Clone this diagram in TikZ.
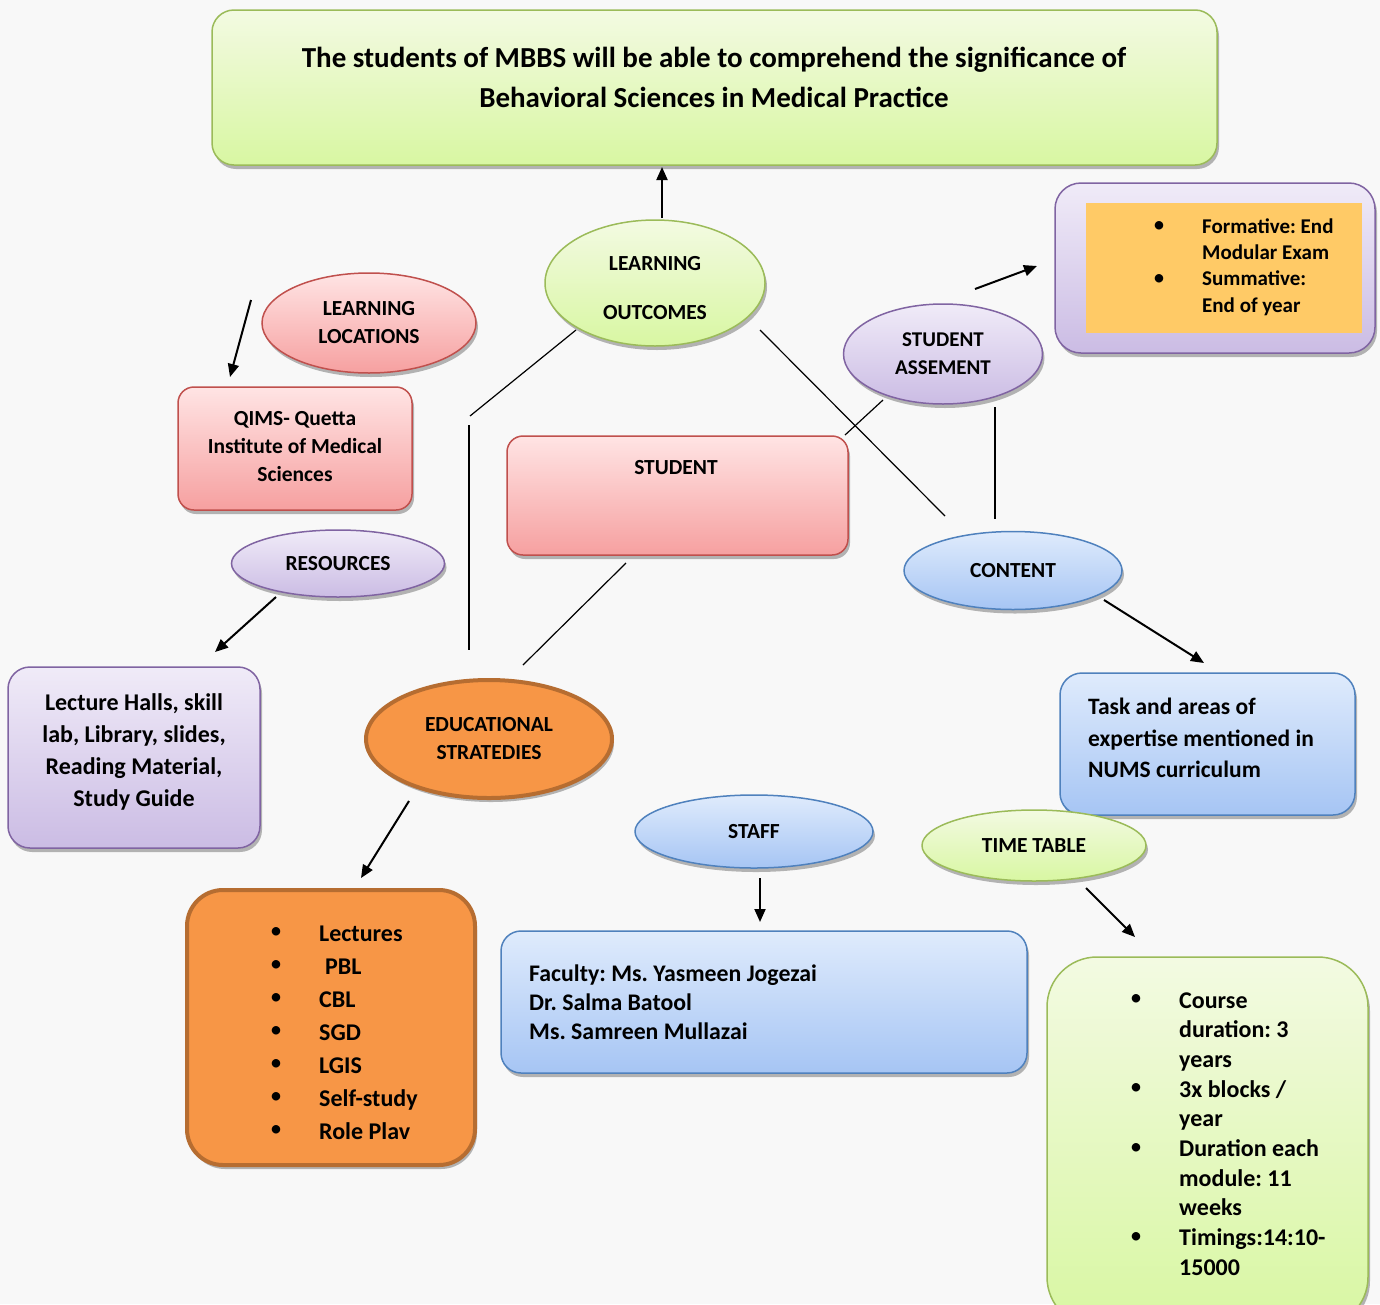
\documentclass[tikz,border=0pt]{standalone}
\usepackage{fontspec}
\setmainfont{Carlito}
\frenchspacing
\usetikzlibrary{shapes.geometric,shadows,arrows.meta}
\definecolor{gT}{HTML}{F3FAE2}
\definecolor{gB}{HTML}{D8F7A2}
\definecolor{gD}{HTML}{9BBB59}
\definecolor{pT}{HTML}{FFE4E4}
\definecolor{pB}{HTML}{F6A0A0}
\definecolor{pD}{HTML}{C0504D}
\definecolor{vT}{HTML}{F0EBF8}
\definecolor{vB}{HTML}{CBBCE4}
\definecolor{vD}{HTML}{8064A2}
\definecolor{bT}{HTML}{DFEBFC}
\definecolor{bB}{HTML}{A6C5F4}
\definecolor{bD}{HTML}{4F81BD}
\definecolor{oF}{HTML}{F79646}
\definecolor{oD}{HTML}{B66D31}
\definecolor{yF}{HTML}{FFCA66}
\definecolor{bgc}{HTML}{F8F8F8}
\tikzset{
  shd/.style={drop shadow={opacity=0.28,shadow xshift=2pt,shadow yshift=-4pt,fill=black}},
  grn/.style={top color=gT,bottom color=gB,draw=gD,line width=1.5pt,shd},
  pnk/.style={top color=pT,bottom color=pB,draw=pD,line width=1.5pt,shd},
  vio/.style={top color=vT,bottom color=vB,draw=vD,line width=1.5pt,shd},
  blu/.style={top color=bT,bottom color=bB,draw=bD,line width=1.5pt,shd},
  org/.style={fill=oF,draw=oD,line width=4pt,shd},
  ell/.style={ellipse,inner sep=0pt,align=center},
  rbox/.style={rectangle,inner sep=0pt},
  txt/.style={inner sep=0pt},
  bul/.style={inner sep=0pt,font=\fontsize{24}{24}\selectfont},
  arr/.style={line width=2pt,-{Triangle[length=13pt,width=11pt]}},
  ln/.style={line width=1.2pt}
}
\begin{document}
\begin{tikzpicture}[x=1pt,y=-1pt,font=\bfseries]
\fill[bgc] (0,0) rectangle (1380,1304);
\useasboundingbox (0,0) rectangle (1380,1304);
\clip (0,0) rectangle (1380,1304);

% title
\node[rbox,grn,rounded corners=22pt,minimum width=1005pt,minimum height=155pt] (title) at (714.5,87.5) {};
\node[txt,align=center,font=\bfseries\fontsize{29}{40}\selectfont] (titletxt) at (714,77)
  {The students of MBBS will be able to comprehend the significance of\\Behavioral Sciences in Medical Practice};

% learning outcomes
\node[ell,grn,minimum width=220pt,minimum height=126pt] (lo) at (655,283) {};
\node[txt,align=center,font=\bfseries\fontsize{21.5}{21.5}\selectfont] (lotxt) at (655,288) {LEARNING\\[28pt]OUTCOMES};
\coordinate (loA) at (662,218);
\coordinate (titA) at (662,167);
\draw[arr] (loA) -- (titA);

% learning locations
\node[ell,pnk,minimum width=214pt,minimum height=100pt,font=\bfseries\fontsize{21.5}{28}\selectfont] (ll) at (369,323) {LEARNING\\LOCATIONS};
\coordinate (llA) at (251,300);
\coordinate (llB) at (230,377);
\draw[arr] (llA) -- (llB);

\node[rbox,pnk,rounded corners=16pt,minimum width=234pt,minimum height=123pt] (qims) at (295,448.5) {};
\node[txt,align=center,font=\bfseries\fontsize{21.5}{28}\selectfont] (qimstxt) at (295,446.5) {QIMS- Quetta\\Institute of Medical\\Sciences};

% resources
\node[ell,vio,minimum width=213pt,minimum height=67pt,font=\bfseries\fontsize{21.5}{21.5}\selectfont] (res) at (338,563.5) {RESOURCES};
\coordinate (resA) at (276,597);
\coordinate (resB) at (215,652);
\draw[arr] (resA) -- (resB);

\node[rbox,vio,rounded corners=22pt,minimum width=252pt,minimum height=181pt] (halls) at (134,757.5) {};
\node[txt,align=center,font=\bfseries\fontsize{24}{31.7}\selectfont] (hallstxt) at (134,752) {Lecture Halls, skill\\lab, Library, slides,\\Reading Material,\\Study Guide};

% student
\node[rbox,pnk,rounded corners=16pt,minimum width=341pt,minimum height=119pt] (stud) at (677.5,495.5) {};
\node[txt,font=\bfseries\fontsize{21.5}{21.5}\selectfont] (studtxt) at (676,468) {STUDENT};

% student assessment
\node[ell,vio,minimum width=199pt,minimum height=100pt,font=\bfseries\fontsize{21}{28}\selectfont] (sa) at (943,354) {STUDENT\\ASSEMENT};
\coordinate (saA) at (975,289);
\coordinate (saB) at (1037,266);
\draw[arr] (saA) -- (saB);

\node[rbox,vio,rounded corners=26pt,minimum width=320pt,minimum height=170pt] (form) at (1215,268) {};
\node[rbox,fill=yF,minimum width=276pt,minimum height=130pt] (forminner) at (1224,268) {};
\node[bul] (fb1) at (1159,227) {•};
\node[bul] (fb2) at (1159,280) {•};
\node[txt,align=left,anchor=west,font=\bfseries\fontsize{21}{26.3}\selectfont] (formtxt) at (1202,267) {Formative: End\\Modular Exam\\Summative:\\End of year};

% content
\node[ell,blu,minimum width=218pt,minimum height=78pt,font=\bfseries\fontsize{21.5}{21.5}\selectfont] (cont) at (1013,570.5) {CONTENT};
\coordinate (coA) at (1104,600);
\coordinate (coB) at (1204,663);
\draw[arr] (coA) -- (coB);

\node[rbox,blu,rounded corners=22pt,minimum width=295pt,minimum height=142pt] (task) at (1207.5,744) {};
\node[txt,align=left,anchor=west,font=\bfseries\fontsize{23.5}{31.5}\selectfont] (tasktxt) at (1088,738) {Task and areas of\\expertise mentioned in\\NUMS curriculum};

% educational strategies
\node[ell,org,minimum width=246pt,minimum height=118pt,font=\bfseries\fontsize{21.5}{28}\selectfont] (edu) at (489,739) {EDUCATIONAL\\STRATEDIES};
\coordinate (edA) at (409,801);
\coordinate (edB) at (361,878);
\draw[arr] (edA) -- (edB);

\node[rbox,org,rounded corners=36pt,minimum width=288pt,minimum height=275pt] (lect) at (331,1027.5) {};
\foreach \yy [count=\i] in {933,966,999,1032,1065,1098,1131}
  \node[bul] (lb\i) at (276,\yy) {•};
\node[txt,align=left,anchor=west,font=\bfseries\fontsize{24}{33}\selectfont] (lecttxt) at (319,1033) {Lectures\\\hspace*{6pt}PBL\\CBL\\SGD\\LGIS\\Self-study\\Role Plav};

% staff
\node[ell,blu,minimum width=238pt,minimum height=73pt,font=\bfseries\fontsize{21.5}{21.5}\selectfont] (staff) at (754,831.5) {STAFF};
\coordinate (stA) at (760,878);
\coordinate (stB) at (760,922);
\draw[arr] (stA) -- (stB);

\node[rbox,blu,rounded corners=20pt,minimum width=526pt,minimum height=142pt] (fac) at (764,1002) {};
\node[txt,align=left,anchor=west,font=\bfseries\fontsize{23.8}{29}\selectfont] (factxt) at (529,1002) {Faculty: Ms. Yasmeen Jogezai\\Dr. Salma Batool\\Ms. Samreen Mullazai};

% time table
\node[ell,grn,minimum width=224pt,minimum height=71pt,font=\bfseries\fontsize{21.5}{21.5}\selectfont] (tt) at (1034,845.5) {TIME TABLE};
\coordinate (ttA) at (1086,888);
\coordinate (ttB) at (1135,937);
\draw[arr] (ttA) -- (ttB);

\node[rbox,grn,rounded corners=50pt,minimum width=321pt,minimum height=370pt] (course) at (1207.5,1142) {};
\foreach \yy [count=\i] in {1000,1089,1149,1238}
  \node[bul] (cb\i) at (1136,\yy) {•};
\node[txt,align=left,anchor=west,font=\bfseries\fontsize{24}{29.67}\selectfont] (coursetxt) at (1179,1134) {Course\\duration: 3\\years\\3x blocks /\\year\\Duration each\\module: 11\\weeks\\Timings:14:10-\\15000};

% connector lines
\coordinate (l1a) at (576,330); \coordinate (l1b) at (470,416);
\coordinate (l2a) at (469,425); \coordinate (l2b) at (469,650);
\coordinate (l3a) at (626,563); \coordinate (l3b) at (523,665);
\coordinate (l4a) at (760,330); \coordinate (l4b) at (945,516);
\coordinate (l5a) at (883,400); \coordinate (l5b) at (845,435);
\coordinate (l6a) at (995,407); \coordinate (l6b) at (995,519);
\draw[ln] (l1a) -- (l1b);
\draw[ln] (l2a) -- (l2b);
\draw[ln] (l3a) -- (l3b);
\draw[ln] (l4a) -- (l4b);
\draw[ln] (l5a) -- (l5b);
\draw[ln] (l6a) -- (l6b);
\end{tikzpicture}
\end{document}
